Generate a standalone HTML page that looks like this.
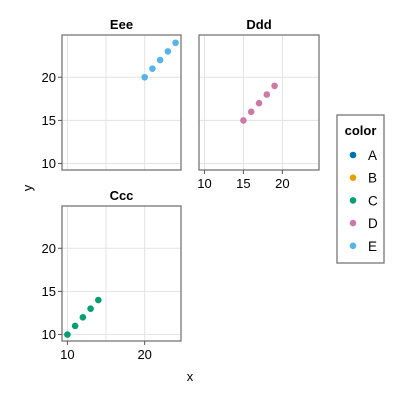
<!DOCTYPE html>
<html><head><meta charset="utf-8"><style>
body{margin:0;background:#fff}
svg{font-family:"Liberation Sans",sans-serif;display:block}
</style></head><body>
<svg id="chart" width="400" height="400"></svg>
<script>
const panelNames = ["Eee","Ddd","Ccc"];
const panelColors = ["#56b4e9","#cc79a7","#009e73"];
const eeeX = [20,21,22,23,24], eeeY = [20,21,22,23,24];
const dddX = [15,16,17,18,19], dddY = [15,16,17,18,19];
const cccX = [10,11,12,13,14], cccY = [10,11,12,13,14];
const xTicks = [10,15,20];
const cccXTicks = [10,20];
const yTicks = [10,15,20];
const legendLabels = ["A","B","C","D","E"];
const legendColors = ["#0072b2","#e69f00","#009e73","#cc79a7","#56b4e9"];

const NS="http://www.w3.org/2000/svg";
const svg=document.getElementById('chart');
function mk(t,a,p){const e=document.createElementNS(NS,t);for(const k in a)e.setAttribute(k,a[k]);(p||svg).appendChild(e);return e;}
const xMin=9.3,xMax=24.7,yMin=9.25,yMax=24.9;
const panels=[
 {x0:62,x1:181,y0:35,y1:170,xs:eeeX,ys:eeeY,showY:true,xt:null},
 {x0:199,x1:319,y0:35,y1:170,xs:dddX,ys:dddY,showY:false,xt:xTicks},
 {x0:62,x1:181,y0:206,y1:341,xs:cccX,ys:cccY,showY:true,xt:cccXTicks}
];
panels.forEach((p,i)=>{
 const sx=v=>p.x0+(v-xMin)/(xMax-xMin)*(p.x1-p.x0);
 const sy=v=>p.y1-(v-yMin)/(yMax-yMin)*(p.y1-p.y0);
 const g=mk('g',{});
 
 
 xTicks.forEach(t=>{mk('line',{x1:sx(t),x2:sx(t),y1:p.y0,y2:p.y1,stroke:'#e3e3e3','stroke-width':1},g);});
 yTicks.forEach(t=>{mk('line',{x1:p.x0,x2:p.x1,y1:sy(t),y2:sy(t),stroke:'#e3e3e3','stroke-width':1},g);});
 const r=mk('rect',{x:p.x0,y:p.y0,width:p.x1-p.x0,height:p.y1-p.y0,fill:'none',stroke:'#777','stroke-width':1.3},g);
 
 
 const tt=mk('text',{x:(p.x0+p.x1)/2,y:p.y0-6,'text-anchor':'middle','font-size':13,'font-weight':'bold'},g);
 tt.textContent=panelNames[i];
 
 
 if(p.showY)yTicks.forEach(t=>{
  mk('line',{x1:p.x0-4,x2:p.x0,y1:sy(t),y2:sy(t),stroke:'#555'},g);
  const l=mk('text',{x:p.x0-6,y:sy(t)+4.5,'text-anchor':'end','font-size':13},g);l.textContent=t;
  
  
 });
 if(p.xt)p.xt.forEach(t=>{
  mk('line',{x1:sx(t),x2:sx(t),y1:p.y1,y2:p.y1+4,stroke:'#555'},g);
  const l=mk('text',{x:sx(t),y:p.y1+18,'text-anchor':'middle','font-size':13},g);l.textContent=t;
  
  
 });
 p.xs.forEach((v,j)=>{
  const c=mk('circle',{cx:sx(v),cy:sy(p.ys[j]),r:3.3,fill:panelColors[i]},g);
  
  
 });
});
const xt=mk('text',{x:190,y:381,'text-anchor':'middle','font-size':13});xt.textContent='x';


const yt=mk('text',{x:0,y:0,'text-anchor':'middle','font-size':13,transform:'translate(32,188) rotate(-90)'});yt.textContent='y';


const lg=mk('g',{});


mk('rect',{x:337,y:115,width:47,height:148,fill:'#fff',stroke:'#777','stroke-width':1.3},lg);
const lt=mk('text',{x:360.5,y:135,'text-anchor':'middle','font-size':13,'font-weight':'bold'},lg);lt.textContent='color';


legendLabels.forEach((s,i)=>{
 const y=155+i*22.7;
 const e=mk('g',{},lg);
 
 
 mk('circle',{cx:353,cy:y,r:3.3,fill:legendColors[i]},e);
 const t=mk('text',{x:368,y:y+5,'font-size':13.5},e);t.textContent=s;
});
</script>
</body></html>
